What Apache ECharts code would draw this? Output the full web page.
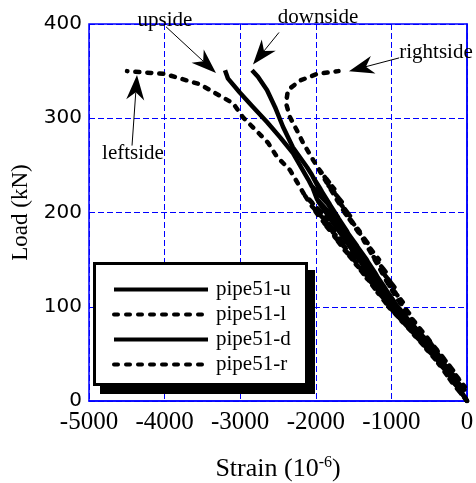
<!DOCTYPE html>
<html>
<head>
<meta charset="utf-8">
<script src="https://cdn.jsdelivr.net/npm/echarts@6/dist/echarts.min.js"></script>
<style>
  html, body { margin: 0; padding: 0; background: #fff; }
  #chart { width: 476px; height: 483px; }
</style>
</head>
<body>
<div id="chart"></div>
<script>
// strain (10^-6), load (kN) pairs, with the unload/reload loops
const seriesNames = ['pipe51-u', 'pipe51-l', 'pipe51-d', 'pipe51-r']

const upData = [[0,0],[-170,20],[-272,32],[-32,12],[-285,34],[-415,47],[-175,27],[-428,49],[-575,62],[-335,42],[-588,64],
  [-737,77],[-497,57],[-750,79],[-902,92],[-662,72],[-915,94],[-1052,107],[-812,87],[-1065,109],[-1184,122],[-944,102],[-1197,124],
  [-1316,137],[-1076,117],[-1329,139],[-1448,152],[-1208,132],[-1461,154],[-1580,167],[-1340,147],[-1593,169],[-1712,182],[-1472,162],[-1725,184],
  [-1844,197],[-1604,177],[-1857,199],[-1971,212],[-1731,192],[-1984,214],[-2041,226],[-1801,206],[-2054,228],
  [-2100,235],[-2302,263],[-2474,280],[-2646,296],[-2831,312],[-3003,327],[-3161,342],[-3201,351]]
const leftData = [[0,0],[-200,20],[-245,25],[-65,10],[-260,27],[-380,40],[-140,20],[-395,42],[-537,55],[-237,30],[-552,57],
  [-700,70],[-400,45],[-715,72],[-867,85],[-567,60],[-882,87],[-1040,100],[-740,75],[-1055,102],[-1182,115],[-882,90],[-1197,117],
  [-1325,130],[-1025,105],[-1340,132],[-1470,145],[-1170,120],[-1485,147],[-1620,160],[-1320,135],[-1635,162],[-1762,175],[-1462,150],[-1777,177],
  [-1905,190],[-1605,165],[-1920,192],[-2040,205],[-1740,180],[-2055,207],[-2144,218],[-1844,193],[-2160,220],
  [-2209,227],[-2341,245],[-2513,259],[-2632,274],[-2765,285],[-2963,301],[-3095,316],[-3360,328],[-3532,336],[-3995,347],[-4497,350]]
const downData = [[0,0],[-150,20],[-210,28],[-80,8],[-222,30],[-331,43],[-201,23],[-344,45],[-455,58],[-325,38],[-468,60],
  [-641,73],[-511,53],[-654,75],[-796,88],[-666,68],[-809,90],[-945,103],[-815,83],[-958,105],[-1071,118],[-941,98],[-1084,120],
  [-1194,133],[-1064,113],[-1207,135],[-1314,148],[-1184,128],[-1327,150],[-1444,163],[-1314,143],[-1457,165],[-1574,178],[-1444,158],[-1587,180],
  [-1694,193],[-1564,173],[-1707,195],[-1811,208],[-1681,188],[-1824,210],[-1925,223],[-1795,203],[-1938,225],[-2040,238],[-1910,218],[-2053,240],
  [-2116,248],[-2302,269],[-2434,291],[-2540,312],[-2646,330],[-2765,344],[-2844,351]]
const rightData = [[0,0],[-130,20],[-228,35],[-28,15],[-240,37],[-360,50],[-160,30],[-373,52],[-510,65],[-310,45],[-523,67],
  [-660,80],[-460,60],[-673,82],[-810,95],[-610,75],[-823,97],[-936,110],[-736,90],[-949,112],[-1050,125],[-850,105],[-1063,127],
  [-1152,140],[-952,120],[-1165,142],[-1256,155],[-1056,135],[-1269,157],[-1364,170],[-1164,150],[-1377,172],[-1488,185],[-1288,165],[-1501,187],
  [-1620,200],[-1420,180],[-1633,202],[-1733,215],[-1533,195],[-1746,217],[-1845,230],[-1645,210],[-1858,232],[-1956,245],[-1756,225],[-1969,247],
  [-2037,256],[-2169,274],[-2249,287],[-2341,301],[-2394,316],[-2368,330],[-2209,340],[-1984,347],[-1700,350]]

// annotation: label, text position, arrow start, arrow tip (data coords)
const noteLabels = ['upside', 'downside', 'rightside', 'leftside']
const noteText = [[-3995,404],[-1971,407],[-410,370],[-4418,263]]
const noteFrom = [[-3981,397],[-2487,391],[-899,364],[-4431,271]]
const noteTip = [[-3320,348],[-2831,357],[-1561,350],[-4365,346]]

const serif = 'Liberation Serif'
const blue = '#0000ff'

const chart = echarts.init(document.getElementById('chart'), null, { renderer: 'canvas' })

function lineSeries(name, data, dashed) {
  return {
    name, type: 'line', data,
    symbol: 'none',
    z: 2,
    lineStyle: {
      color: '#000', width: 4.5,
      type: dashed ? [4, 8] : 'solid',
      cap: dashed ? 'round' : 'butt',
      join: 'round'
    },
    itemStyle: { color: '#000' }
  }
}

// legend frame with its drop shadow (pixel layout)
const legendBox = { x: 93, y: 262, w: 215, h: 124, shadowX: 7, shadowY: 8 }

chart.setOption({
  animation: false,
  grid: {
    left: 89, right: 9, top: 24, bottom: 82, outerBoundsMode: 'none',
    show: true, borderColor: blue, borderWidth: 1.5
  },
  xAxis: {
    type: 'value', min: -5000, max: 0, interval: 1000,
    name: 'Strain (10{sup|-6})', nameLocation: 'middle', nameGap: 54,
    nameTextStyle: {
      fontFamily: serif, fontSize: 26, color: '#000',
      rich: { sup: { fontFamily: serif, fontSize: 16, color: '#000', padding: [0, 0, 12, 0] } }
    },
    axisLine: { show: true, lineStyle: { color: blue, width: 1.5 } },
    axisTick: { show: false },
    axisLabel: { fontFamily: serif, fontSize: 25, color: '#000', margin: 9, formatter: v => String(v) },
    splitLine: { lineStyle: { color: blue, type: [6, 3], width: 1 } }
  },
  yAxis: {
    type: 'value', min: 0, max: 400, interval: 100,
    name: 'Load (kN)', nameLocation: 'middle', nameGap: 52,
    nameTextStyle: { fontFamily: serif, fontSize: 23, color: '#000' },
    axisLine: { show: true, lineStyle: { color: blue, width: 1.5 } },
    axisTick: { show: false },
    axisLabel: { fontFamily: 'DejaVu Sans', fontSize: 20, color: '#000', margin: 7 },
    splitLine: { lineStyle: { color: blue, type: [6, 3], width: 1 } }
  },
  legend: {
    orient: 'vertical', left: legendBox.x, top: legendBox.y,
    padding: [17, 19, 15, 19], z: 6,
    itemWidth: 94, itemHeight: 14, itemGap: 4,
    itemStyle: { opacity: 0 },
    lineStyle: { width: 4 },
    textStyle: { fontFamily: serif, fontSize: 21, color: '#000', lineHeight: 20, padding: [0, 0, 0, 3] },
    data: seriesNames
  },
  series: [
    lineSeries(seriesNames[0], upData, false),
    lineSeries(seriesNames[1], leftData, true),
    lineSeries(seriesNames[2], downData, false),
    lineSeries(seriesNames[3], rightData, true)
  ]
})

const graphics = [
  {
    type: 'rect', silent: true, z: 5,
    shape: { x: legendBox.x + legendBox.shadowX, y: legendBox.y + legendBox.shadowY, width: legendBox.w, height: legendBox.h },
    style: { fill: '#000' }
  },
  {
    type: 'rect', silent: true, z: 5,
    shape: { x: legendBox.x + 1.5, y: legendBox.y + 1.5, width: legendBox.w - 3, height: legendBox.h - 3 },
    style: { fill: '#fff', stroke: '#000', lineWidth: 3 }
  }
]

// arrows and labels placed from data coords
noteLabels.forEach((label, i) => {
  const t = chart.convertToPixel({ gridIndex: 0 }, noteText[i])
  const a = chart.convertToPixel({ gridIndex: 0 }, noteFrom[i])
  const b = chart.convertToPixel({ gridIndex: 0 }, noteTip[i])
  const dx = b[0] - a[0], dy = b[1] - a[1]
  const len = Math.hypot(dx, dy)
  const ux = dx / len, uy = dy / len
  const px = -uy, py = ux
  const hl = 25, hw = 9
  const back = [b[0] - ux * hl, b[1] - uy * hl]
  const notch = [b[0] - ux * hl * 0.7, b[1] - uy * hl * 0.7]
  graphics.push({
    type: 'line', silent: true, z: 7,
    shape: { x1: a[0], y1: a[1], x2: notch[0], y2: notch[1] },
    style: { stroke: '#000', lineWidth: 1 }
  })
  graphics.push({
    type: 'polygon', silent: true, z: 7,
    shape: { points: [b, [back[0] + px * hw, back[1] + py * hw], notch, [back[0] - px * hw, back[1] - py * hw]] },
    style: { fill: '#000' }
  })
  graphics.push({
    type: 'text', silent: true, z: 7, x: t[0], y: t[1],
    style: { text: label, font: '21px "Liberation Serif"', fill: '#000', align: 'center', verticalAlign: 'middle' }
  })
})
chart.setOption({ graphic: graphics })
</script>
</body>
</html>
